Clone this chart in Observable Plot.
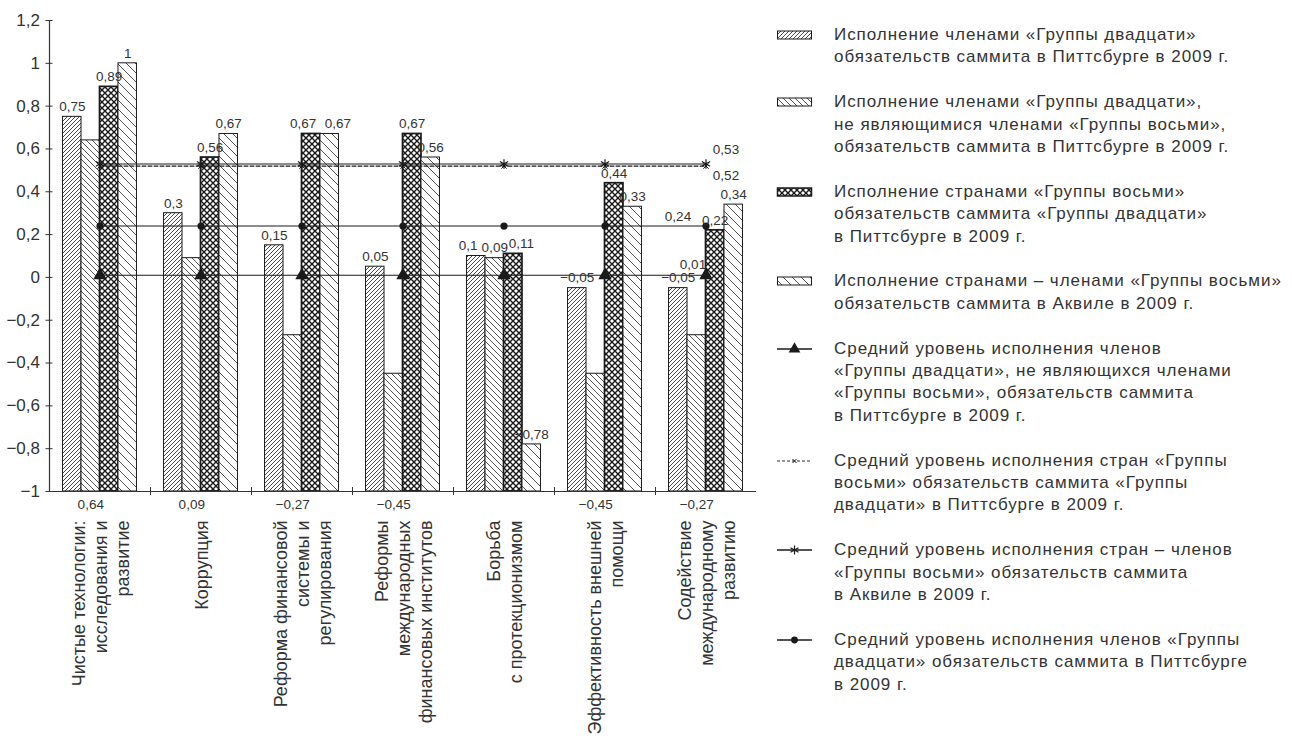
<!DOCTYPE html>
<html><head><meta charset="utf-8">
<script src="https://cdn.jsdelivr.net/npm/d3@7"></script>
<script src="https://cdn.jsdelivr.net/npm/@observablehq/plot@0.6"></script>
<style>
html,body{margin:0;padding:0;background:#fff;}
#wrap{position:relative;width:1292px;height:743px;font-family:"Liberation Sans",Arial,sans-serif;color:#333;overflow:hidden;}
#chart{position:absolute;left:0;top:0;}
#legend{position:absolute;left:776px;top:24px;width:530px;}
.item{display:flex;align-items:flex-start;margin-bottom:22.4px;}
.icon{width:38px;height:22px;flex:none;margin-right:20px;}
.txt{font-size:17px;letter-spacing:0.95px;line-height:22.4px;white-space:pre;color:#333;}
</style></head><body>
<div id="wrap"><div id="chart"></div><div id="legend"></div></div>
<script>
// ---- data ----
const categories = [
  "Чистые технологии:\nисследования и\nразвитие",
  "Коррупция",
  "Реформа финансовой\nсистемы и\nрегулирования",
  "Реформы\nмеждународных\nфинансовых институтов",
  "Борьба\nс протекционизмом",
  "Эффективность внешней\nпомощи",
  "Содействие\nмеждународному\nразвитию"
];
const g20Pittsburgh      = [0.75, 0.3, 0.15, 0.05, 0.1, -0.05, -0.05];
const g20NonG8Pittsburgh = [0.64, 0.09, -0.27, -0.45, 0.09, -0.45, -0.27];
const g8Pittsburgh       = [0.89, 0.56, 0.67, 0.67, 0.11, 0.44, 0.22];
const g8Aquila           = [1, 0.67, 0.67, 0.56, -0.78, 0.33, 0.34];
const avgNonG8Pittsburgh = [0.01, 0.01, 0.01, 0.01, 0.01, 0.01, 0.01];
const avgG8Pittsburgh    = [0.52, 0.52, 0.52, 0.52, 0.52, 0.52, 0.52];
const avgG8Aquila        = [0.53, 0.53, 0.53, 0.53, 0.53, 0.53, 0.53];
const avgG20Pittsburgh   = [0.24, 0.24, 0.24, 0.24, 0.24, 0.24, 0.24];
const yTicks = [-1, -0.8, -0.6, -0.4, -0.2, 0, 0.2, 0.4, 0.6, 0.8, 1, 1.2];
// category indices whose non-G8 value is printed under the axis
const nonG8LabelBelow = [0, 1, 2, 3, 5, 6];
const legendLabels = [
  "Исполнение членами «Группы двадцати»\nобязательств саммита в Питтсбурге в 2009 г.",
  "Исполнение членами «Группы двадцати»,\nне являющимися членами «Группы восьми»,\nобязательств саммита в Питтсбурге в 2009 г.",
  "Исполнение странами «Группы восьми»\nобязательств саммита «Группы двадцати»\nв Питтсбурге в 2009 г.",
  "Исполнение странами – членами «Группы восьми»\nобязательств саммита в Аквиле в 2009 г.",
  "Средний уровень исполнения членов\n«Группы двадцати», не являющихся членами\n«Группы восьми», обязательств саммита\nв Питтсбурге в 2009 г.",
  "Средний уровень исполнения стран «Группы\nвосьми» обязательств саммита «Группы\nдвадцати» в Питтсбурге в 2009 г.",
  "Средний уровень исполнения стран – членов\n«Группы восьми» обязательств саммита\nв Аквиле в 2009 г.",
  "Средний уровень исполнения членов «Группы\nдвадцати» обязательств саммита в Питтсбурге\nв 2009 г."
];

// ---- build tables ----
const barSeries = [g20Pittsburgh, g20NonG8Pittsburgh, g8Pittsburgh, g8Aquila];
const bars = [];
categories.forEach((c, i) => barSeries.forEach((vals, s) => bars.push({cat: i, s, v: vals[i]})));
const lineSeries = [avgNonG8Pittsburgh, avgG8Pittsburgh, avgG8Aquila, avgG20Pittsburgh];
const lineData = lineSeries.map(vals => vals.map((v, i) => ({cat: i, v})));

const fmt = v => (v < 0 ? "−" : "") + String(Math.abs(Math.round(v * 100) / 100)).replace(".", ",");
const PAD = 0.134, BW = 0.183;
const bx1 = d => d.cat + PAD + d.s * BW;
const bx2 = d => d.cat + PAD + (d.s + 1) * BW;
const bxc = d => d.cat + PAD + (d.s + 0.5) * BW;
const gc = d => d.cat + 0.5;
const INK = "#1a1a1a", TXT = "#333";

const barStyles = [
  {fill: "url(#pat0)", stroke: INK, strokeWidth: 1},
  {fill: "url(#pat1)", stroke: INK, strokeWidth: 1},
  {fill: "url(#pat2)", stroke: INK, strokeWidth: 1.7},
  {fill: "url(#pat3)", stroke: INK, strokeWidth: 1}
];

// labels above bars, nudged apart when neighbours sit at nearly the same height
const aboveLabels = bars.filter(d => !(d.s === 1 && nonG8LabelBelow.includes(d.cat))).map(d => ({...d, nudge: 0}));
const NUDGE = 0.08;
for (let i = 1; i < aboveLabels.length; i++) {
  const a = aboveLabels[i - 1], b = aboveLabels[i];
  if (a.cat === b.cat && b.s === a.s + 1 && Math.abs(a.v - b.v) < 0.06) { a.nudge -= NUDGE; b.nudge += NUDGE; }
}
const belowLabels = bars.filter(d => d.s === 1 && nonG8LabelBelow.includes(d.cat));
const last = arr => [arr[arr.length - 1]];
const LF = 13.5;

const svg = Plot.plot({
  width: 770, height: 743,
  marginLeft: 49, marginRight: 14, marginTop: 20, marginBottom: 252,
  style: {fontFamily: '"Liberation Sans", Arial, sans-serif', color: TXT, background: "white"},
  x: {domain: [0, 7], axis: null},
  y: {domain: [-1, 1.2], axis: null},
  marks: [
    ...barStyles.map((st, s) => Plot.rect(bars.filter(d => d.s === s), {x1: bx1, x2: bx2, y1: -1, y2: "v", ...st})),
    // average lines
    Plot.line(lineData[0], {x: gc, y: "v", stroke: INK, strokeWidth: 1.1}),
    Plot.line(lineData[1], {x: gc, y: "v", stroke: INK, strokeWidth: 1.1, strokeDasharray: "4,2"}),
    Plot.line(lineData[2], {x: gc, y: "v", stroke: INK, strokeWidth: 1.1}),
    Plot.line(lineData[3], {x: gc, y: "v", stroke: INK, strokeWidth: 1.1}),
    Plot.dot(lineData[0], {x: gc, y: "v", symbol: "triangle", r: 5, fill: INK}),
    Plot.dot(lineData[1], {x: gc, y: "v", symbol: "times", r: 2.5, stroke: INK, strokeWidth: 1}),
    Plot.dot(lineData[2], {x: gc, y: "v", symbol: "asterisk", r: 4.5, stroke: INK, strokeWidth: 1.2}),
    Plot.dot(lineData[3], {x: gc, y: "v", symbol: "circle", r: 3.6, fill: INK}),
    // line value labels
    Plot.text(last(lineData[2]), {x: gc, y: "v", text: d => fmt(d.v), dx: 20, dy: -14, fontSize: LF, fill: TXT}),
    Plot.text(last(lineData[1]), {x: gc, y: "v", text: d => fmt(d.v), dx: 20, dy: 10, fontSize: LF, fill: TXT}),
    Plot.text(last(lineData[3]), {x: gc, y: "v", text: d => fmt(d.v), dx: -28, dy: -9, fontSize: LF, fill: TXT}),
    Plot.text(last(lineData[0]), {x: gc, y: "v", text: d => fmt(d.v), dx: -13, dy: -11, fontSize: LF, fill: TXT}),
    // bar labels
    Plot.text(aboveLabels, {x: d => bxc(d) + d.nudge, y: "v", text: d => fmt(d.v), dy: -10, fontSize: LF, fill: TXT}),
    Plot.text(belowLabels, {x: bxc, y: -1, text: d => fmt(d.v), dy: 13, fontSize: LF, fill: TXT}),
    // axes
    Plot.ruleX([0], {y1: -1, y2: 1.2, stroke: TXT, strokeWidth: 1.2}),
    Plot.ruleY([-1], {stroke: TXT, strokeWidth: 1.2}),
    Plot.axisY({ticks: yTicks, tickFormat: fmt, tickSize: 7, dx: 3.5, tickPadding: 6, fontSize: 17, label: null, color: TXT}),
    Plot.axisX({ticks: [1, 2, 3, 4, 5, 6], tickSize: 8, dy: -4, tickFormat: () => "", label: null, color: TXT}),
    // category labels
    Plot.text(categories.map((c, i) => ({cat: i, c})), {x: gc, y: -1, text: "c", rotate: -90, textAnchor: "end", lineAnchor: "middle", dy: 29, fontSize: 18, lineHeight: 1.22, fill: TXT})
  ]
});

const patDefs = `
<pattern id="pat0" patternUnits="userSpaceOnUse" width="4" height="4">
  <rect width="4" height="4" fill="white"/>
  <path d="M-1,1 L1,-1 M0,4 L4,0 M3,5 L5,3" stroke="${INK}" stroke-width="0.8"/>
</pattern>
<pattern id="pat1" patternUnits="userSpaceOnUse" width="6" height="6">
  <rect width="6" height="6" fill="white"/>
  <path d="M-1,5 L1,7 M0,0 L6,6 M5,-1 L7,1" stroke="${INK}" stroke-width="0.75"/>
</pattern>
<pattern id="pat2" patternUnits="userSpaceOnUse" width="6" height="6">
  <rect width="6" height="6" fill="white"/>
  <path d="M0,0 L6,6 M6,0 L0,6" stroke="${INK}" stroke-width="1.4"/>
</pattern>
<pattern id="pat3" patternUnits="userSpaceOnUse" width="9" height="9">
  <rect width="9" height="9" fill="white"/>
  <path d="M-1,8 L1,10 M0,0 L9,9 M8,-1 L10,1" stroke="${INK}" stroke-width="0.75"/>
</pattern>`;
const defs = document.createElementNS("http://www.w3.org/2000/svg", "defs");
defs.innerHTML = patDefs;
svg.insertBefore(defs, svg.firstChild);
document.getElementById("chart").appendChild(svg);

// ---- legend ----
const iconKinds = ["pat0", "pat1", "pat2", "pat3", "tri", "dash", "star", "dot"];
const legend = d3.select("#legend");
legendLabels.forEach((lab, k) => {
  const item = legend.append("div").attr("class", "item");
  const ic = item.append("svg").attr("class", "icon").attr("width", 38).attr("height", 22);
  const kind = iconKinds[k];
  if (kind.startsWith("pat")) {
    ic.append("rect").attr("x", 1.5).attr("y", 7).attr("width", 34).attr("height", 8)
      .attr("fill", `url(#${kind})`).attr("stroke", INK).attr("stroke-width", kind === "pat2" ? 1.5 : 1);
  } else {
    ic.append("line").attr("x1", 1).attr("x2", 36).attr("y1", 11).attr("y2", 11)
      .attr("stroke", INK).attr("stroke-width", kind === "dash" ? 0.9 : 1.3)
      .attr("stroke-dasharray", kind === "dash" ? "3,2" : null);
    const cx = 18.5, cy = 11;
    if (kind === "tri") ic.append("path").attr("d", d3.symbol(d3.symbolTriangle, 60)()).attr("transform", `translate(${cx},${cy})`).attr("fill", INK);
    if (kind === "dot") ic.append("circle").attr("cx", cx).attr("cy", cy).attr("r", 3.4).attr("fill", INK);
    if (kind === "dash") ic.append("path").attr("d", "M-2,-2L2,2M2,-2L-2,2").attr("transform", `translate(${cx},${cy})`).attr("stroke", INK).attr("stroke-width", 1);
    if (kind === "star") ic.append("path").attr("d", "M0,-4.5L0,4.5M-4,-2.3L4,2.3M-4,2.3L4,-2.3").attr("transform", `translate(${cx},${cy})`).attr("stroke", INK).attr("stroke-width", 1.2);
  }
  item.append("div").attr("class", "txt").text(lab);
});
</script>
</body></html>
